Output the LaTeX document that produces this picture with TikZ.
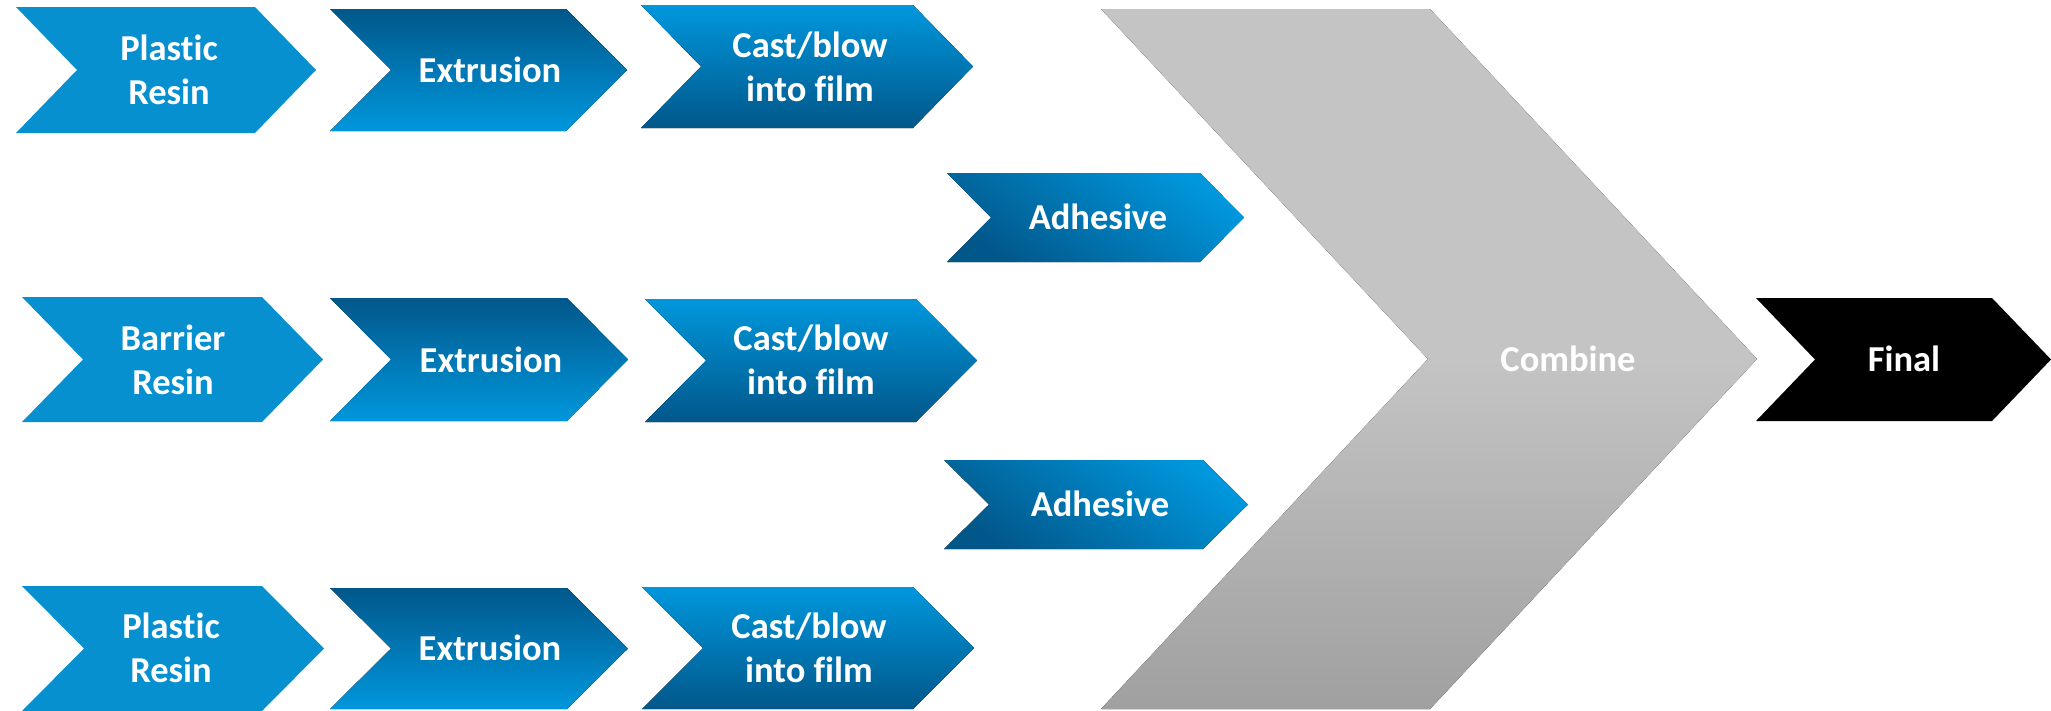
\documentclass[tikz,border=0pt]{standalone}
\usepackage{fontspec}
\setmainfont{Carlito}[Ligatures=NoCommon]
\definecolor{flatblue}{HTML}{0790D0}
\definecolor{lightblue}{HTML}{0097DD}
\definecolor{darkblue}{HTML}{01578A}
\definecolor{combtop}{HTML}{C4C4C4}
\definecolor{combbot}{HTML}{A0A0A0}
\tikzset{
  flatchev/.style={fill=flatblue},
  risechev/.style={top color=darkblue, bottom color=lightblue},
  fallchev/.style={top color=lightblue, bottom color=darkblue},
  gluechev/.style={top color=lightblue, bottom color=darkblue, shading angle=-35},
  combchev/.style={top color=combtop, bottom color=combbot, middle color=combtop},
  finalchev/.style={fill=black},
  steptext/.style={text=white, font=\bfseries\fontsize{36.5}{44.5}\selectfont, align=center, inner sep=0pt},
}
% #1 style, #2 left x, #3 body right x, #4 top y, #5 bottom y, #6 point depth
\newcommand\chevshape[6]{%
  \fill[#1] (#2,#4) -- (#3,#4) -- ({#3+#6},{(#4+#5)/2}) -- (#3,#5) -- (#2,#5)
    -- ({#2+#6},{(#4+#5)/2}) -- cycle;}
\begin{document}
\begin{tikzpicture}[x=1pt,y=-1pt]
\useasboundingbox (0,0) rectangle (2051,710);
% row 1
\chevshape{flatchev}{16}{255}{7}{133}{61}
\chevshape{risechev}{330}{566}{9}{131}{61}
\chevshape{fallchev}{641}{913}{5}{128}{60}
\node[steptext] (pr1) at (169,70) {Plastic\\Resin};
\node[steptext] (ex1) at (490,70) {Extrusion};
\node[steptext] (cb1) at (810,67) {Cast/blow\\into film};
% first adhesive layer
\chevshape{gluechev}{947}{1200}{173}{262}{44}
\node[steptext] (ad1) at (1098,217) {Adhesive};
% row 2
\chevshape{flatchev}{22}{262}{297}{422}{61}
\chevshape{risechev}{330}{567}{298}{421}{61}
\chevshape{fallchev}{645}{916}{299}{422}{61}
\node[steptext] (br2) at (173,360) {Barrier\\Resin};
\node[steptext] (ex2) at (491,360) {Extrusion};
\node[steptext] (cb2) at (811,360) {Cast/blow\\into film};
% second adhesive layer
\chevshape{gluechev}{944}{1203}{460}{549}{45}
\node[steptext] (ad2) at (1100,504) {Adhesive};
% row 3
\chevshape{flatchev}{22}{262}{586}{711}{62}
\chevshape{risechev}{330}{567}{588}{709}{61}
\chevshape{fallchev}{642}{913}{587}{709}{61}
\node[steptext] (pr3) at (171,648) {Plastic\\Resin};
\node[steptext] (ex3) at (490,648) {Extrusion};
\node[steptext] (cb3) at (809,648) {Cast/blow\\into film};
% combine and final
\chevshape{combchev}{1101}{1430}{9}{709}{327}
\node[steptext] (comb) at (1568,359) {Combine};
\chevshape{finalchev}{1756}{1992}{298}{421}{59}
\node[steptext] (final) at (1904,359) {Final};
\end{tikzpicture}
\end{document}
